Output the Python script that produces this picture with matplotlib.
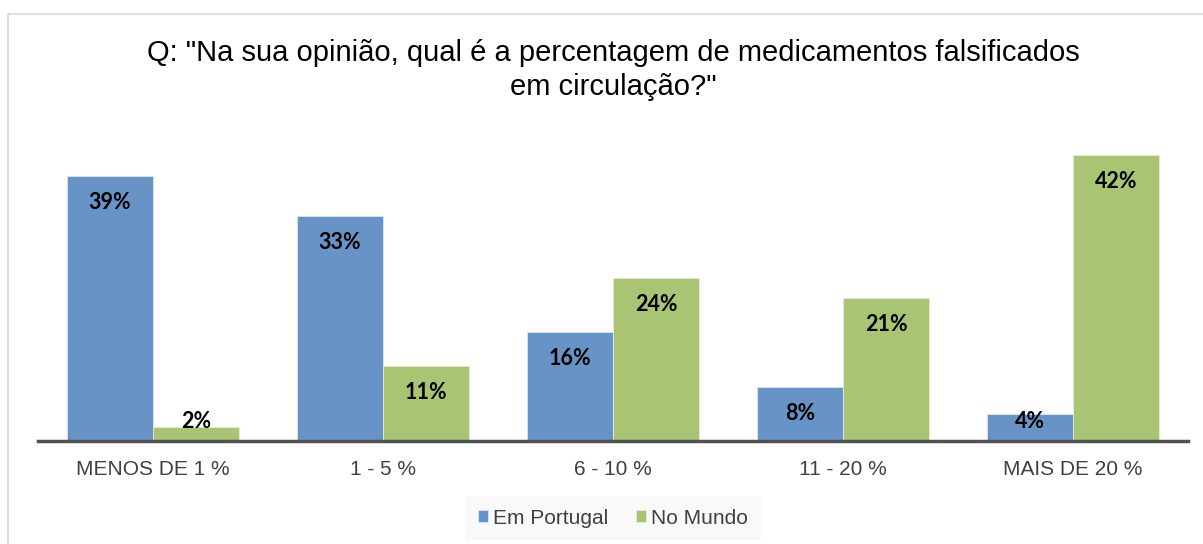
import matplotlib.pyplot as plt
import numpy as np
from matplotlib.patches import Rectangle

plt.rcParams['font.family'] = ['Liberation Sans', 'DejaVu Sans']

categories = ['MENOS DE 1 %', '1 - 5 %', '6 - 10 %', '11 - 20 %', 'MAIS DE 20 %']
portugal = [39, 33, 16, 8, 4]
mundo = [2, 11, 24, 21, 42]
series_names = ['Em Portugal', 'No Mundo']

color_pt = '#6893C7'
color_mu = '#A9C573'
text_gray = '#404040'

W, H = 1203, 544
fig = plt.figure(figsize=(W / 100, H / 100), dpi=100)

# outer chart frame (cut by the image edges on right/bottom)
fig.patches.append(Rectangle((8 / W, -0.1), 1.2, (H - 14) / H + 0.1,
                             transform=fig.transFigure, fill=False,
                             edgecolor='#d9d9d9', linewidth=1.2))

ax = fig.add_axes([38 / W, (H - 441) / H, 1150 / W, (441 - 145) / H])

x = np.arange(len(categories))
bw = 0.374
ax.bar(x - bw / 2, portugal, bw, color=color_pt, edgecolor='#dce6f2', linewidth=0.6, label=series_names[0])
ax.bar(x + bw / 2, mundo, bw, color=color_mu, edgecolor='#e6eed8', linewidth=0.6, label=series_names[1])

# value labels: inside the top of the bar, above it when the bar is too short
for xs, vals in ((x - bw / 2, portugal), (x + bw / 2, mundo)):
    for xi, v in zip(xs, vals):
        ax.text(xi, max(v - 3.9, 2.9), f'{v}%', ha='center', va='center',
                fontsize=15.5, fontweight='bold', color='black',
                family=['Lato', 'DejaVu Sans'])

ax.set_xlim(-0.5, 4.5)
ax.set_ylim(0, 43.5)
ax.set_yticks([])
ax.set_xticks(x)
ax.set_xticklabels(categories, fontsize=15, color=text_gray)
ax.tick_params(axis='x', length=0, pad=14)
for s in ('top', 'right', 'left'):
    ax.spines[s].set_visible(False)
ax.spines['bottom'].set_color('#505050')
ax.spines['bottom'].set_linewidth(2.5)

fig.text(613 / W, 1 - 70 / H,
         'Q: "Na sua opinião, qual é a percentagem de medicamentos falsificados\nem circulação?"',
         ha='center', va='center', fontsize=21, color='black', linespacing=1.3)

leg = fig.legend(loc='center', bbox_to_anchor=(613 / W, 1 - 518 / H), ncol=2,
                 frameon=True, fontsize=15, handlelength=0.5, handleheight=0.5,
                 handletextpad=0.25, columnspacing=1.3, borderpad=0.55)
leg.get_frame().set_facecolor('#f8f8f8')
leg.get_frame().set_edgecolor('#f8f8f8')
leg.get_frame().set_boxstyle('square', pad=0)
for t in leg.get_texts():
    t.set_color(text_gray)

fig.savefig('out.png', dpi=100)
